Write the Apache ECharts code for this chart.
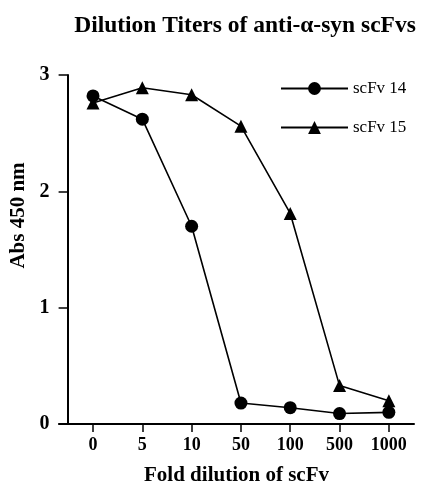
<!DOCTYPE html>
<html>
<head>
<meta charset="utf-8">
<script src="https://cdn.jsdelivr.net/npm/echarts@6/dist/echarts.min.js"></script>
<style>html,body{margin:0;padding:0;background:#fff;}#c{width:428px;height:485px;}</style>
</head>
<body>
<div id="c"></div>
<script>
const categories = ['0', '5', '10', '50', '100', '500', '1000'];
const scFv14 = [2.82, 2.62, 1.70, 0.18, 0.14, 0.09, 0.10];
const scFv15 = [2.76, 2.89, 2.83, 2.56, 1.81, 0.33, 0.20];
const yTicks = [0, 1, 2, 3];

const FONT = '"Liberation Serif", "DejaVu Serif", serif';
const chart = echarts.init(document.getElementById('c'), null, {renderer: 'canvas'});
const idx = categories.map((_, i) => i);
chart.setOption({
  animation: false,
  backgroundColor: '#fff',
  title: {
    text: 'Dilution Titers of anti-α-syn scFvs',
    left: 240, textAlign: 'center', top: 9,
    textStyle: {fontFamily: FONT, fontWeight: 'bold', fontSize: 23.5, color: '#000'}
  },
  legend: {
    orient: 'vertical', left: 275, top: 75,
    itemWidth: 67, itemHeight: 16, itemGap: 22,
    textStyle: {fontFamily: FONT, fontSize: 17, color: '#000'},
    data: ['scFv 14', 'scFv 15']
  },
  grid: {left: 59, right: 14, top: 75, bottom: 61, containLabel: false, outerBoundsMode: 'none'},
  xAxis: {
    type: 'value', min: -0.69, max: 6.51,
    name: 'Fold dilution of scFv', nameLocation: 'middle', nameGap: 41, nameMoveOverlap: false,
    nameTextStyle: {fontFamily: FONT, fontWeight: 'bold', fontSize: 21, color: '#000'},
    axisLine: {show: true, lineStyle: {color: '#000', width: 2}},
    axisTick: {show: true, length: 8, lineStyle: {color: '#000', width: 1.5}, customValues: idx},
    axisLabel: {
      customValues: idx, margin: 12,
      fontFamily: FONT, fontWeight: 'bold', fontSize: 18, color: '#000',
      formatter: v => categories[Math.round(v)]
    },
    splitLine: {show: false}
  },
  yAxis: {
    type: 'value', min: yTicks[0], max: yTicks[yTicks.length - 1], interval: 1,
    offset: -8.6,
    name: 'Abs 450 nm', nameLocation: 'middle', nameGap: 39, nameMoveOverlap: false,
    nameTextStyle: {fontFamily: FONT, fontWeight: 'bold', fontSize: 21, color: '#000', padding: [0, 0, 0, 68]},
    axisLine: {show: true, onZero: false, lineStyle: {color: '#000', width: 2}},
    axisTick: {show: true, length: 9, lineStyle: {color: '#000', width: 1.5}},
    axisLabel: {margin: 18, fontFamily: FONT, fontWeight: 'bold', fontSize: 20, color: '#000'},
    splitLine: {show: false}
  },
  series: [
    {
      name: 'scFv 15', type: 'line',
      data: scFv15.map((v, i) => [i, v]),
      symbol: 'triangle', symbolSize: 13,
      lineStyle: {color: '#000', width: 1.6},
      itemStyle: {color: '#000'}
    },
    {
      name: 'scFv 14', type: 'line',
      data: scFv14.map((v, i) => [i, v]),
      symbol: 'circle', symbolSize: 13,
      lineStyle: {color: '#000', width: 1.6},
      itemStyle: {color: '#000'}
    }
  ]
});
</script>
</body>
</html>
